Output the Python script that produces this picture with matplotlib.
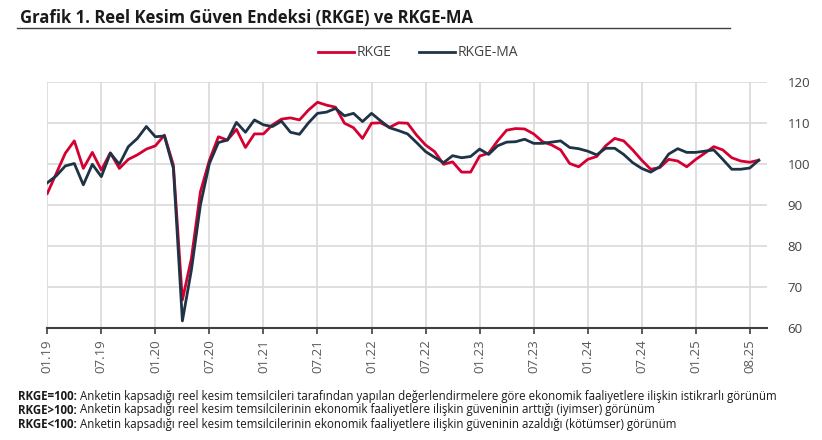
import matplotlib
matplotlib.use('Agg')
import matplotlib.pyplot as plt
import numpy as np

plt.rcParams['font.family'] = ['Open Sans', 'DejaVu Sans']

# Aylık veriler, 01.2019 - 08.2025
rkge = [92.8, 97.7, 102.6, 105.6, 98.9, 102.8, 98.5, 102.7, 98.9, 101.1,
        102.2, 103.6, 104.4, 107.0, 99.7, 66.9, 77.0, 93.2, 100.9, 106.6,
        105.8, 108.4, 104.0, 107.3, 107.3, 109.5, 110.9, 111.2, 110.7, 113.1,
        115.0, 114.3, 113.8, 109.9, 108.8, 106.2, 109.9, 110.0, 108.9, 110.0,
        109.9, 107.0, 104.6, 103.0, 99.9, 100.5, 98.0, 98.0, 101.9, 102.6,
        105.6, 108.2, 108.6, 108.5, 107.3, 105.4, 104.6, 103.4, 100.1, 99.3,
        101.1, 101.8, 104.4, 106.2, 105.6, 103.4, 100.9, 98.7, 99.1, 101.1,
        100.7, 99.3, 101.1, 102.6, 104.2, 103.4, 101.5, 100.7, 100.4, 100.9]
rkge_ma = [95.4, 97.1, 99.5, 100.1, 94.9, 99.9, 96.9, 102.6, 99.9, 104.2,
           106.2, 109.1, 106.6, 106.8, 98.9, 61.8, 74.2, 90.0, 100.1, 105.2,
           105.8, 110.1, 107.7, 110.7, 109.5, 109.1, 110.4, 107.7, 107.2, 110.0,
           112.3, 112.6, 113.5, 111.7, 112.3, 110.3, 112.3, 110.5, 108.8, 108.1,
           107.3, 105.2, 103.0, 101.6, 100.3, 102.0, 101.5, 101.8, 103.6, 102.3,
           104.4, 105.3, 105.4, 106.0, 105.0, 105.0, 105.3, 105.6, 104.0, 103.7,
           103.1, 102.2, 103.8, 103.8, 102.3, 100.3, 98.9, 98.0, 99.3, 102.4,
           103.7, 102.8, 102.8, 103.1, 103.4, 101.1, 98.7, 98.7, 99.0, 100.9]
tick_labels = ['01.19', '07.19', '01.20', '07.20', '01.21', '07.21', '01.22',
               '07.22', '01.23', '07.23', '01.24', '07.24', '01.25', '08.25']

red = '#D50032'
navy = '#1F3346'
grid_color = '#D9D9D9'
text_color = '#404040'

x = np.arange(len(rkge))

fig = plt.figure(figsize=(8.22, 4.40), dpi=100)
fig.patch.set_facecolor('white')
ax = fig.add_axes([47.3 / 822, 1 - 328.3 / 440, (766.9 - 47.3) / 822, (328.3 - 81.7) / 440])

ax.plot(x, rkge, color=red, lw=2.0, label='RKGE', zorder=3)
ax.plot(x, rkge_ma, color=navy, lw=2.0, label='RKGE-MA', zorder=4)

ax.set_xlim(0, 79.9)
ax.set_ylim(60, 120)

# X ekseni: her 6 ayda bir etiket
ax.set_xticks(np.arange(0, 6 * len(tick_labels), 6))
ax.set_xticklabels(tick_labels, rotation=90, fontsize=9.5, color='#595959')
ax.tick_params(axis='x', direction='out', length=4, width=1.2, color=text_color, pad=4)

# Y ekseni sağda
ax.set_yticks(np.arange(60, 121, 10))
ax.yaxis.tick_right()
ax.tick_params(axis='y', length=0, pad=15, labelsize=9.5, labelcolor=text_color)

ax.grid(True, color=grid_color, lw=1.2, zorder=0)
ax.set_axisbelow(True)
for s in ['top', 'left', 'right']:
    ax.spines[s].set_visible(False)
ax.spines['bottom'].set_color(text_color)
ax.spines['bottom'].set_linewidth(1.5)
ax.spines['bottom'].set_zorder(5)

# Lejant
ax.legend(loc='center', bbox_to_anchor=(418 / 822, 1 - 53 / 440),
          bbox_transform=fig.transFigure, ncol=2, frameon=False,
          fontsize=10, handlelength=2.6, handletextpad=0.2, columnspacing=2.0,
          labelcolor=text_color)

# Başlık
fig.text(20 / 822, 1 - 17.5 / 440, 'Grafik 1. Reel Kesim Güven Endeksi (RKGE) ve RKGE-MA',
         fontsize=12, fontweight='bold', color='#1a1a1a', va='center', ha='left')
fig.add_artist(plt.Line2D([17 / 822, 730 / 822], [1 - 28.5 / 440, 1 - 28.5 / 440],
                          color=text_color, lw=1.0, transform=fig.transFigure))

# Dipnotlar
notes = [
    ('RKGE=100:', 'Anketin kapsadığı reel kesim temsilcileri tarafından yapılan değerlendirmelere göre ekonomik faaliyetlere ilişkin istikrarlı görünüm'),
    ('RKGE>100:', 'Anketin kapsadığı reel kesim temsilcilerinin ekonomik faaliyetlere ilişkin güveninin arttığı (iyimser) görünüm'),
    ('RKGE<100:', 'Anketin kapsadığı reel kesim temsilcilerinin ekonomik faaliyetlere ilişkin güveninin azaldığı (kötümser) görünüm'),
]
for k, (bold, rest) in enumerate(notes):
    yy = 1 - (396 + 14 * k) / 440
    t = fig.text(18 / 822, yy, bold, fontsize=8.3, fontweight='bold', color='#1a1a1a', va='center')
    ax.annotate(rest, xy=(1, 0.5), xycoords=t, xytext=(2.5, 0), textcoords='offset points',
                fontsize=8.3, color='#1a1a1a', va='center', ha='left', annotation_clip=False)

fig.savefig('out.png', dpi=100, facecolor='white')
plt.close(fig)
